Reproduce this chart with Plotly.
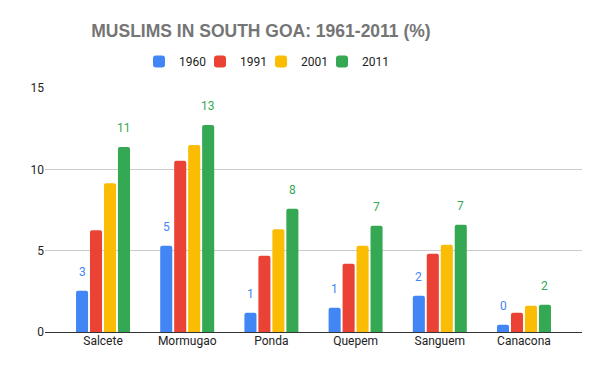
import plotly.graph_objects as go

categories = ["Salcete", "Mormugao", "Ponda", "Quepem", "Sanguem", "Canacona"]
series_names = ["1960", "1991", "2001", "2011"]
v1960 = [2.54, 5.30, 1.19, 1.49, 2.23, 0.45]
v1991 = [6.26, 10.52, 4.69, 4.19, 4.81, 1.19]
v2001 = [9.15, 11.50, 6.32, 5.30, 5.36, 1.62]
v2011 = [11.38, 12.73, 7.57, 6.53, 6.59, 1.68]
y_ticks = [0, 5, 10, 15]

colors = ["#4285F4", "#EA4335", "#FBBC04", "#34A853"]
all_vals = [v1960, v1991, v2001, v2011]
labelled = [0, 3]

fig = go.Figure()
for i, (name, vals) in enumerate(zip(series_names, all_vals)):
    fig.add_trace(go.Bar(
        x=categories, y=vals, name=name,
        marker=dict(color=colors[i], line=dict(width=0)),
        legendwidth=16 if i < len(series_names) - 1 else 30,
    ))

# data labels for 1960 and 2011 series
for i in labelled:
    vals = all_vals[i]
    for k, v in enumerate(vals):
        fig.add_annotation(
            x=k, y=v, xref="x", yref="y",
            text=str(int(round(v))), showarrow=False,
            xshift=(i - 1.5) * 13.98,
            yanchor="middle", yshift=19,
            font=dict(family="Roboto, Arial, sans-serif", size=12, color=colors[i]),
        )

fig.update_layout(
    width=600, height=371,
    margin=dict(l=45, r=18, t=88, b=39, autoexpand=False),
    paper_bgcolor="white", plot_bgcolor="white",
    title=dict(
        text="<b>MUSLIMS IN SOUTH GOA: 1961-2011 (%)</b>",
        font=dict(family="Arial, Liberation Sans, sans-serif", size=17.5, color="#757575"),
        x=261 / 600, xanchor="center", xref="container",
        y=1 - 31 / 371, yanchor="middle", yref="container",
    ),
    legend=dict(
        orientation="h", xref="container", yref="container",
        x=268 / 600, xanchor="center", y=1 - 61.5 / 371, yanchor="middle",
        font=dict(family="Roboto, Arial, sans-serif", size=12, color="#222222"),
        itemclick=False,
    ),
    barmode="group", bargap=0.336, bargroupgap=0.137,
    barcornerradius=2,
    xaxis=dict(
        range=[-0.689, 5.689], showgrid=False, showline=False, zeroline=False,
        ticks="", tickfont=dict(family="Roboto, Arial, sans-serif", size=12, color="#222222"),
        fixedrange=True,
    ),
    yaxis=dict(
        range=[0, 15], tickvals=y_ticks, ticktext=[str(t) for t in y_ticks],
        showgrid=True, gridcolor="#cccccc", gridwidth=1,
        zeroline=True, zerolinecolor="#333333", zerolinewidth=1,
        showline=False, ticks="",
        tickfont=dict(family="Roboto, Arial, sans-serif", size=12, color="#222222"),
        fixedrange=True,
    ),
    showlegend=True,
)

fig.write_html("out.html", config={"displayModeBar": False},
               post_script="document.body.style.margin='0';")
